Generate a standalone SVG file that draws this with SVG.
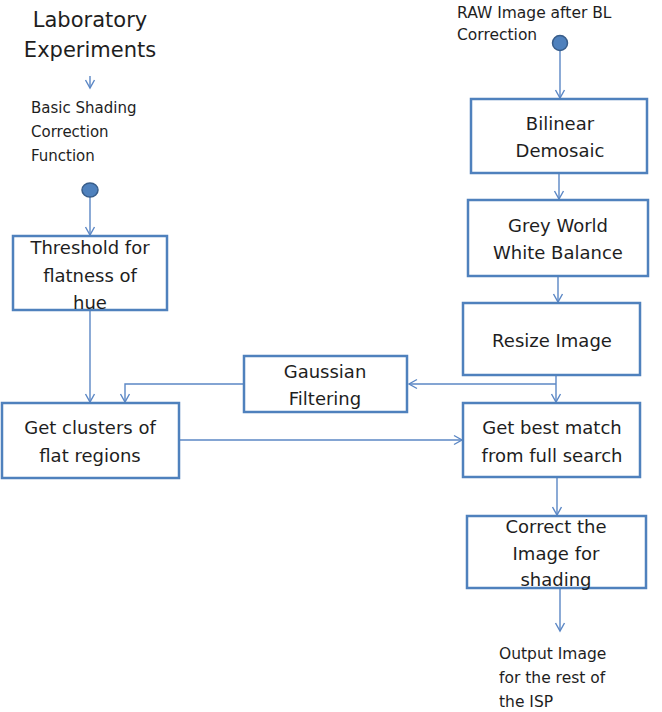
<svg xmlns="http://www.w3.org/2000/svg" width="662" height="712" viewBox="0 0 662 712">
<style>
text{font-family:"DejaVu Sans","Liberation Sans",sans-serif;fill:#1e1e1e}
.box{fill:#fff;stroke:#4f81bd;stroke-width:2.5}
.bt{font-size:18px;text-anchor:middle}
.sm{font-size:15px}
.ttl{font-size:21px;text-anchor:middle}
.c{fill:none;stroke:#5b87c5;stroke-width:1.4}
.dot{fill:#4f81bd;stroke:#385d8a;stroke-width:1.5}
</style>
<defs>
<marker id="a" markerUnits="userSpaceOnUse" markerWidth="12" markerHeight="12" refX="9" refY="5" orient="auto" viewBox="0 0 12 10">
<path d="M1,0.5 L9,5 L1,9.5" fill="none" stroke="#5b87c5" stroke-width="1.4"/>
</marker>
</defs>
<rect width="662" height="712" fill="#fff"/>
<g id="connectors">
<line class="c" x1="90" y1="76" x2="90" y2="88" marker-end="url(#a)"/>
<line class="c" x1="90" y1="197" x2="90" y2="235" marker-end="url(#a)"/>
<line class="c" x1="90" y1="311" x2="90" y2="402" marker-end="url(#a)"/>
<polyline class="c" points="244,384 125,384 125,402" marker-end="url(#a)"/>
<line class="c" x1="556" y1="376" x2="556" y2="402" marker-end="url(#a)"/>
<line class="c" x1="556" y1="384" x2="409" y2="384" marker-end="url(#a)"/>
<line class="c" x1="180" y1="440" x2="462" y2="440" marker-end="url(#a)"/>
<line class="c" x1="560" y1="50" x2="560" y2="98" marker-end="url(#a)"/>
<line class="c" x1="559" y1="174" x2="559" y2="199" marker-end="url(#a)"/>
<line class="c" x1="558" y1="277" x2="558" y2="302" marker-end="url(#a)"/>
<line class="c" x1="557" y1="478" x2="557" y2="515" marker-end="url(#a)"/>
<line class="c" x1="560" y1="589" x2="560" y2="631" marker-end="url(#a)"/>
</g>
<g id="lab">
<text class="ttl" x="90" y="27">Laboratory</text>
<text class="ttl" x="90" y="57">Experiments</text>
</g>
<g id="basic">
<text class="sm" x="31" y="113">Basic Shading</text>
<text class="sm" x="31" y="137">Correction</text>
<text class="sm" x="31" y="161">Function</text>
</g>
<g id="dotLeft"><ellipse class="dot" cx="90" cy="190" rx="8" ry="7"/></g>
<g id="threshold">
<rect class="box" x="13" y="236" width="154" height="74"/>
<text class="bt" x="90" y="254">Threshold for</text>
<text class="bt" x="90" y="282">flatness of</text>
<text class="bt" x="90" y="309">hue</text>
</g>
<g id="clusters">
<rect class="box" x="2" y="403" width="177" height="75"/>
<text class="bt" x="90" y="434">Get clusters of</text>
<text class="bt" x="90" y="462">flat regions</text>
</g>
<g id="gaussian">
<rect class="box" x="244" y="356" width="163" height="56"/>
<text class="bt" x="325" y="378">Gaussian</text>
<text class="bt" x="325" y="405">Filtering</text>
</g>
<g id="raw">
<text class="sm" x="457" y="18" style="font-size:15.5px">RAW Image after BL</text>
<text class="sm" x="457" y="40" style="font-size:15.5px">Correction</text>
</g>
<g id="dotRight"><ellipse class="dot" cx="560" cy="43" rx="7.5" ry="7.5"/></g>
<g id="bilinear">
<rect class="box" x="471" y="99" width="176" height="74"/>
<text class="bt" x="560" y="130">Bilinear</text>
<text class="bt" x="560" y="157">Demosaic</text>
</g>
<g id="grey">
<rect class="box" x="468" y="200" width="180" height="76"/>
<text class="bt" x="558" y="232">Grey World</text>
<text class="bt" x="558" y="259">White Balance</text>
</g>
<g id="resize">
<rect class="box" x="463" y="303" width="177" height="72"/>
<text class="bt" x="552" y="347">Resize Image</text>
</g>
<g id="bestmatch">
<rect class="box" x="463" y="403" width="177" height="74"/>
<text class="bt" x="552" y="434">Get best match</text>
<text class="bt" x="552" y="462">from full search</text>
</g>
<g id="correct">
<rect class="box" x="467" y="516" width="179" height="72"/>
<text class="bt" x="556" y="533">Correct the</text>
<text class="bt" x="556" y="560">Image for</text>
<text class="bt" x="556" y="586">shading</text>
</g>
<g id="output">
<text class="sm" x="499" y="659" style="font-size:15.5px">Output Image</text>
<text class="sm" x="499" y="683" style="font-size:15.5px">for the rest of</text>
<text class="sm" x="499" y="707" style="font-size:15.5px">the ISP</text>
</g>
</svg>
